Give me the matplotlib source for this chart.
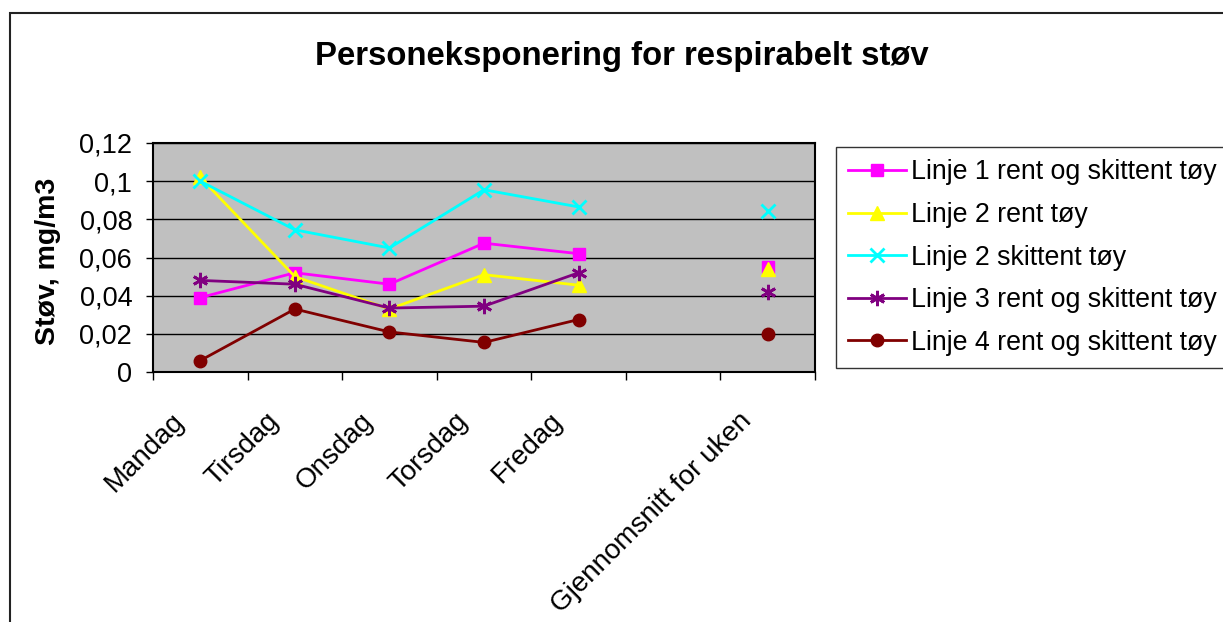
import numpy as np
import matplotlib
matplotlib.use("Agg")
import matplotlib.pyplot as plt
from matplotlib.patches import Rectangle
from matplotlib.transforms import ScaledTranslation

plt.rcParams['font.family'] = ['Liberation Sans', 'DejaVu Sans']

# Categories (one empty slot separates the weekdays from the weekly average)
categories = ["Mandag", "Tirsdag", "Onsdag", "Torsdag", "Fredag", "", "Gjennomsnitt for uken"]

# Respirable dust, mg/m3
linje1_rent_skittent = [0.039, 0.052, 0.046, 0.0675, 0.062, np.nan, 0.055]
linje2_rent = [0.102, 0.050, 0.033, 0.051, 0.0455, np.nan, 0.054]
linje2_skittent = [0.100, 0.0745, 0.065, 0.0955, 0.0865, np.nan, 0.0845]
linje3_rent_skittent = [0.048, 0.046, 0.0335, 0.0345, 0.052, np.nan, 0.042]
linje4_rent_skittent = [0.006, 0.033, 0.021, 0.0155, 0.0275, np.nan, 0.020]

series_names = [
    "Linje 1 rent og skittent tøy",
    "Linje 2 rent tøy",
    "Linje 2 skittent tøy",
    "Linje 3 rent og skittent tøy",
    "Linje 4 rent og skittent tøy",
]
y_ticks = [0, 0.02, 0.04, 0.06, 0.08, 0.1, 0.12]
y_tick_labels = ["0", "0,02", "0,04", "0,06", "0,08", "0,1", "0,12"]

W, H = 1223, 622
fig = plt.figure(figsize=(W / 100, H / 100), dpi=100)

# Outer chart border
fig.patches.append(Rectangle((10 / W, -0.2), 2.0, 1.2 - 13 / H, transform=fig.transFigure,
                             fill=False, edgecolor="#222222", linewidth=1.5, zorder=0))

ax = fig.add_axes([153 / W, 1 - 372 / H, (815 - 153) / W, (372 - 143) / H])
ax.set_facecolor("#C0C0C0")

x = np.arange(len(categories)) + 0.5
styles = [
    dict(color="#FF00FF", marker="s", ms=8.5, mec="#FF00FF", mfc="#FF00FF"),
    dict(color="#FFFF00", marker="^", ms=10, mec="#FFFF00", mfc="#FFFF00"),
    dict(color="#00FFFF", marker="x", ms=10, mec="#00FFFF", mew=2),
    dict(color="#800080", marker=(6, 2, 0), ms=11, mec="#800080", mew=2),
    dict(color="#800000", marker="o", ms=9, mec="#800000", mfc="#800000"),
]
data = [linje1_rent_skittent, linje2_rent, linje2_skittent, linje3_rent_skittent, linje4_rent_skittent]
for vals, name, st in zip(data, series_names, styles):
    ax.plot(x, vals, lw=2, label=name, zorder=3, **st)

ax.set_xlim(0, len(categories))
ax.set_ylim(0, 0.12)
ax.set_yticks(y_ticks)
ax.set_yticklabels(y_tick_labels, fontsize=19.5)
ax.yaxis.grid(True, color="#000000", linewidth=1)
ax.set_axisbelow(True)

# Tick marks on category boundaries, labels on category centres
ax.set_xticks(np.arange(len(categories) + 1))
ax.set_xticklabels([])
ax.set_xticks(x, minor=True)
ax.set_xticklabels(categories, minor=True, rotation=45, ha="right", va="top", fontsize=20)
ax.tick_params(axis="x", which="major", direction="out", length=6, width=1)
ax.tick_params(axis="x", which="minor", length=0, pad=26)
ax.tick_params(axis="y", direction="out", length=5, width=1, pad=10)
shift = ScaledTranslation(-11 / 100, 0, fig.dpi_scale_trans)
for lbl in ax.get_xticklabels(minor=True):
    lbl.set_transform(lbl.get_transform() + shift)

for sp in ax.spines.values():
    sp.set_color("#000000")
    sp.set_linewidth(1.5)

fig.text(622 / W, 1 - 57 / H, "Personeksponering for respirabelt støv", ha="center", va="center",
         fontsize=23.7, fontweight="bold")
fig.text(48 / W, 1 - 261 / H, "Støv, mg/m3", rotation=90, ha="center", va="center",
         fontsize=20.5, fontweight="bold")

leg = fig.legend(loc="upper left", bbox_to_anchor=(836 / W, 1 - 147 / H), fontsize=19.3,
                 frameon=True, fancybox=False, edgecolor="#000000", handlelength=2.16,
                 handletextpad=0.19, labelspacing=0.62, borderpad=0.46, borderaxespad=0)
leg.get_frame().set_linewidth(1)

fig.savefig("out.png", dpi=100)
